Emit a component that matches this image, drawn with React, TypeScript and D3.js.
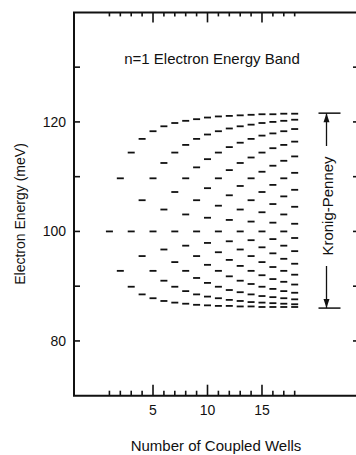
import React, { useEffect, useRef } from 'react';
import * as d3 from 'd3';

// number of coupled wells shown on the x axis
const wellCounts = [1, 2, 3, 4, 5, 6, 7, 8, 9, 10, 11, 12, 13, 14, 15, 16, 17, 18];

// electron energy levels (meV) for each well count
const energyLevels: number[][] = [
  [100],
  [92.8, 109.7],
  [89.9, 100, 114.4],
  [88.5, 95.5, 105.7, 116.9],
  [87.8, 92.8, 100, 109.7, 118.3],
  [87.3, 91.0, 96.7, 104.0, 112.5, 119.2],
  [87.0, 89.9, 94.4, 100, 107.2, 114.4, 119.8],
  [86.8, 89.1, 92.8, 97.4, 103.1, 109.7, 115.8, 120.2],
  [86.6, 88.5, 91.5, 95.5, 100, 105.7, 111.7, 116.9, 120.5],
  [86.5, 88.1, 90.6, 93.9, 97.9, 102.5, 107.9, 113.2, 117.7, 120.8],
  [86.4, 87.8, 89.9, 92.8, 96.2, 100, 104.7, 109.7, 114.4, 118.3, 121.0],
  [86.4, 87.5, 89.3, 91.8, 94.8, 98.2, 102.1, 106.6, 111.2, 115.4, 118.8, 121.1],
  [86.3, 87.3, 88.9, 91.0, 93.7, 96.7, 100, 104.0, 108.3, 112.5, 116.2, 119.2, 121.2],
  [86.3, 87.1, 88.5, 90.4, 92.8, 95.5, 98.4, 101.8, 105.7, 109.7, 113.5, 116.9, 119.5, 121.3],
  [86.2, 87.0, 88.2, 89.9, 92.0, 94.4, 97.1, 100, 103.5, 107.2, 110.9, 114.4, 117.5, 119.8, 121.4],
  [86.2, 86.9, 88.0, 89.5, 91.3, 93.5, 96.0, 98.6, 101.6, 105.0, 108.5, 112.0, 115.2, 117.9, 120.0, 121.4],
  [86.2, 86.8, 87.8, 89.1, 90.8, 92.8, 95.0, 97.4, 100, 103.1, 106.4, 109.7, 112.9, 115.8, 118.3, 120.2, 121.5],
  [86.2, 86.7, 87.6, 88.8, 90.3, 92.1, 94.1, 96.4, 98.8, 101.4, 104.5, 107.6, 110.7, 113.7, 116.4, 118.7, 120.4, 121.5],
];

const xTickLabels = [5, 10, 15];
const yTickLabels = [80, 100, 120];
const yTicks = [80, 90, 100, 110, 120, 130];

// Kronig-Penney band edges (meV)
const bandEdges = [86.0, 121.6];

const FONT = '"Liberation Sans", Arial, Helvetica, sans-serif';

const App = () => {
  const svgRef = useRef<SVGSVGElement>(null);

  useEffect(() => {
    const svg = d3.select(svgRef.current);
    svg.selectAll('*').remove();

    const x = d3.scaleLinear().domain([-2.25, 23.7]).range([74, 356.8]);
    const y = d3.scaleLinear().domain([70, 140]).range([395.7, 12.4]);

    const left = x(-2.25);
    const right = x(23.9);
    const top = y(140);
    const bottom = y(70);

    // frame
    svg.append('path')
      .attr('d', `M${right},${top}H${left}V${bottom}H${right}V${top}`)
      .attr('fill', 'none')
      .attr('stroke', '#111')
      .attr('stroke-width', 2);

    // x ticks (bottom and top)
    const tickLen = (d: number) => (xTickLabels.includes(d) ? 11 : 5);
    svg.selectAll('.xb')
      .data(wellCounts)
      .enter().append('line')
      .attr('x1', d => x(d)).attr('x2', d => x(d))
      .attr('y1', bottom).attr('y2', d => bottom - tickLen(d))
      .attr('stroke', '#111').attr('stroke-width', 1.6);
    svg.selectAll('.xt')
      .data(wellCounts)
      .enter().append('line')
      .attr('x1', d => x(d)).attr('x2', d => x(d))
      .attr('y1', top).attr('y2', d => top + tickLen(d) - 1)
      .attr('stroke', '#111').attr('stroke-width', 1.6);

    // y ticks (left and right)
    svg.selectAll('.yl')
      .data(yTicks)
      .enter().append('line')
      .attr('x1', left).attr('x2', left + 6)
      .attr('y1', d => y(d)).attr('y2', d => y(d))
      .attr('stroke', '#111').attr('stroke-width', 1.6);
    svg.selectAll('.yr')
      .data(yTicks)
      .enter().append('line')
      .attr('x1', right).attr('x2', right - 6)
      .attr('y1', d => y(d)).attr('y2', d => y(d))
      .attr('stroke', '#111').attr('stroke-width', 1.6);

    // tick labels
    svg.selectAll('.xl')
      .data(xTickLabels)
      .enter().append('text')
      .attr('x', d => x(d)).attr('y', 415)
      .attr('text-anchor', 'middle')
      .style('font-family', FONT).style('font-size', '14px')
      .attr('fill', '#111')
      .text(d => d);
    svg.selectAll('.ylab')
      .data(yTickLabels)
      .enter().append('text')
      .attr('x', 66).attr('y', d => y(d) + 5)
      .attr('text-anchor', 'end')
      .style('font-family', FONT).style('font-size', '14px')
      .attr('fill', '#111')
      .text(d => d);

    // energy level dashes
    const dashes = wellCounts.flatMap((n, i) => energyLevels[i].map(e => ({ n, e })));
    svg.selectAll('.lvl')
      .data(dashes)
      .enter().append('line')
      .attr('x1', d => x(d.n) - 3.5).attr('x2', d => x(d.n) + 3.5)
      .attr('y1', d => y(d.e)).attr('y2', d => y(d.e))
      .attr('stroke', '#111').attr('stroke-width', 1.8);

    // title
    svg.append('text')
      .attr('x', 212).attr('y', 64)
      .attr('text-anchor', 'middle')
      .style('font-family', FONT).style('font-size', '15px')
      .attr('fill', '#111')
      .text('n=1 Electron Energy Band');

    // axis titles
    svg.append('text')
      .attr('x', 216).attr('y', 451)
      .attr('text-anchor', 'middle')
      .style('font-family', FONT).style('font-size', '15px')
      .attr('fill', '#111')
      .text('Number of Coupled Wells');
    svg.append('text')
      .attr('transform', 'translate(25, 214) rotate(-90)')
      .attr('text-anchor', 'middle')
      .style('font-family', FONT).style('font-size', '14px')
      .attr('fill', '#111')
      .text('Electron Energy (meV)');

    // Kronig-Penney band width marker
    const ax = 326.5;
    const yTop = y(bandEdges[1]);
    const yBot = y(bandEdges[0]);
    [yTop, yBot].forEach(yy => {
      svg.append('line')
        .attr('x1', ax - 8).attr('x2', ax + 14)
        .attr('y1', yy).attr('y2', yy)
        .attr('stroke', '#111').attr('stroke-width', 1.5);
    });
    svg.append('line')
      .attr('x1', ax).attr('x2', ax).attr('y1', yTop).attr('y2', 146)
      .attr('stroke', '#111').attr('stroke-width', 1.3);
    svg.append('line')
      .attr('x1', ax).attr('x2', ax).attr('y1', 266).attr('y2', yBot)
      .attr('stroke', '#111').attr('stroke-width', 1.3);
    svg.append('path')
      .attr('d', `M${ax},${yTop}l-3,9h6z M${ax},${yBot}l-3,-9h6z`)
      .attr('fill', '#111');
    svg.append('text')
      .attr('transform', `translate(${ax + 6}, 206) rotate(-90)`)
      .attr('text-anchor', 'middle')
      .style('font-family', FONT).style('font-size', '15px')
      .attr('fill', '#111')
      .text('Kronig-Penney');
  }, []);

  return (
    <svg
      ref={svgRef}
      width={356}
      height={455}
      style={{ position: 'absolute', left: 0, top: 0, background: '#fff' }}
    />
  );
};

export default App;
